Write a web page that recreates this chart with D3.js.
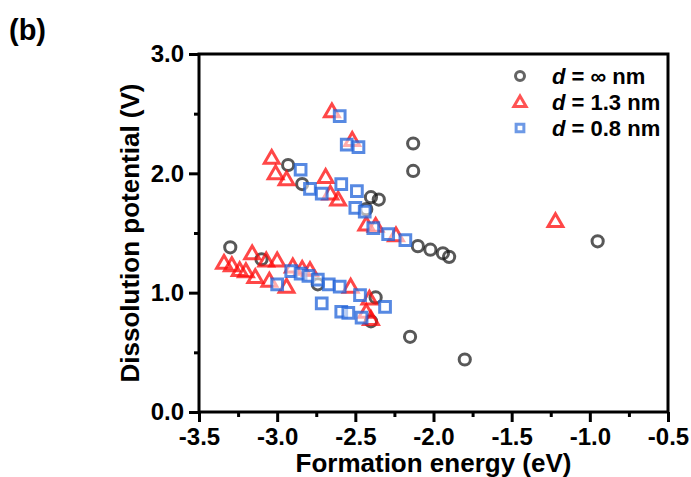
<!DOCTYPE html>
<html>
<head>
<meta charset="utf-8">
<script src="https://cdn.jsdelivr.net/npm/d3@7"></script>
<style>
  body { margin: 0; background: #fff; }
  text { font-family: "Liberation Sans", Arial, sans-serif; font-weight: bold; fill: #000; }
</style>
</head>
<body>
<svg id="chart" width="691" height="477"></svg>
<script>
// d = infinity nm (circles): [formation energy, dissolution potential]
const bulkPts = [
  [-3.30, 1.38], [-3.10, 1.28], [-2.93, 2.07], [-2.84, 1.91], [-2.74, 1.07],
  [-2.43, 1.70], [-2.40, 1.80], [-2.35, 1.78], [-2.37, 0.96], [-2.40, 0.76],
  [-2.13, 2.25], [-2.13, 2.02], [-2.15, 0.63], [-2.10, 1.39], [-2.02, 1.36],
  [-1.94, 1.33], [-1.90, 1.30], [-1.80, 0.44], [-0.95, 1.43]
];
// d = 1.3 nm (triangles)
const d13Pts = [
  [-2.65, 2.51], [-2.52, 2.27], [-3.035, 2.12], [-3.01, 1.99], [-2.94, 1.94],
  [-2.69, 1.96], [-2.66, 1.82], [-2.61, 1.77], [-2.43, 1.56], [-2.37, 1.55],
  [-2.24, 1.47], [-1.22, 1.59],
  [-3.16, 1.32], [-3.34, 1.24], [-3.29, 1.22], [-3.24, 1.18], [-3.20, 1.17],
  [-3.14, 1.12], [-3.07, 1.26], [-3.00, 1.26], [-3.05, 1.09], [-2.94, 1.04],
  [-2.90, 1.21], [-2.84, 1.19], [-2.79, 1.18], [-2.53, 1.04], [-2.41, 0.94],
  [-2.43, 0.83], [-2.40, 0.77]
];
// d = 0.8 nm (squares)
const d08Pts = [
  [-2.60, 2.48], [-2.555, 2.24], [-2.48, 2.22], [-2.85, 2.03], [-2.79, 1.87],
  [-2.715, 1.83], [-2.59, 1.91], [-2.49, 1.85], [-2.50, 1.71], [-2.44, 1.68],
  [-2.385, 1.54], [-2.29, 1.49], [-2.18, 1.44],
  [-3.00, 1.07], [-2.91, 1.18], [-2.85, 1.16], [-2.80, 1.14], [-2.74, 1.11],
  [-2.67, 1.07], [-2.60, 1.05], [-2.47, 0.98], [-2.31, 0.88], [-2.715, 0.91],
  [-2.59, 0.84], [-2.545, 0.83], [-2.46, 0.79]
];
const xTicks = [-3.5, -3.0, -2.5, -2.0, -1.5, -1.0, -0.5];
const yTicks = [0.0, 1.0, 2.0, 3.0];
const legendLabels = ["\u221e", "1.3", "0.8"];

const svg = d3.select("#chart");
const padL = 199, padR = 668, padT = 54, padB = 412;

const x = d3.scaleLinear().domain([-3.5, -0.5]).range([padL, padR]);
const y = d3.scaleLinear().domain([0, 3]).range([padB, padT]);

// axes
const fmt = d => d.toFixed(1);
const xAxis = d3.axisBottom(x).tickValues(xTicks).tickFormat(fmt).tickSize(10).tickPadding(6);
const xMinor = d3.axisBottom(x).tickValues(d3.range(-3.25, -0.5, 0.5)).tickFormat("").tickSize(5);
const yAxis = d3.axisLeft(y).tickValues(yTicks).tickFormat(fmt).tickSize(10).tickPadding(5);
const yMinor = d3.axisLeft(y).tickValues([0.5, 1.5, 2.5]).tickFormat("").tickSize(5);

function styleAxis(g) {
  g.select(".domain").remove();
  g.selectAll(".tick line").attr("stroke", "#000").attr("stroke-width", 3);
  g.selectAll(".tick text").style("font-size", "24px").attr("fill", "#000")
    .style("font-family", "'Liberation Sans', Arial, sans-serif").style("font-weight", "bold");
}

svg.append("g").attr("transform", "translate(0," + padB + ")").call(xAxis).call(styleAxis);
svg.append("g").attr("transform", "translate(0," + padB + ")").call(xMinor).call(styleAxis);
svg.append("g").attr("transform", "translate(" + padL + ",0)").call(yAxis).call(styleAxis);
svg.append("g").attr("transform", "translate(" + padL + ",0)").call(yMinor).call(styleAxis);

// frame
svg.append("rect")
  .attr("x", padL).attr("y", padT)
  .attr("width", padR - padL).attr("height", padB - padT)
  .attr("fill", "none").attr("stroke", "#000").attr("stroke-width", 3);

// markers
const triSym = d3.symbol(d3.symbolTriangle, 95);
const sqSym = d3.symbol(d3.symbolSquare, 115);

svg.append("g").selectAll("circle")
  .data(bulkPts)
  .enter()
  .append("circle")
  .attr("cx", d => x(d[0]))
  .attr("cy", d => y(d[1]))
  .attr("r", 5.6)
  .attr("fill", "none")
  .attr("stroke", "#111")
  .attr("stroke-opacity", 0.7)
  .attr("stroke-width", 3);

svg.append("g").selectAll("path")
  .data(d13Pts)
  .enter()
  .append("path")
  .attr("d", triSym)
  .attr("transform", d => "translate(" + x(d[0]) + "," + y(d[1]) + ")")
  .attr("fill", "none")
  .attr("stroke", "#ff0a0a")
  .attr("stroke-opacity", 0.75)
  .attr("stroke-width", 3);

svg.append("g").selectAll("path")
  .data(d08Pts)
  .enter()
  .append("path")
  .attr("d", sqSym)
  .attr("transform", d => "translate(" + x(d[0]) + "," + y(d[1]) + ")")
  .attr("fill", "#ffffff")
  .attr("fill-opacity", 0.55)
  .attr("stroke", "#1f62d8")
  .attr("stroke-opacity", 0.75)
  .attr("stroke-width", 3);

// legend
const legend = svg.append("g");
const legY = [76, 102, 128];
legend.append("circle").attr("cx", 520).attr("cy", legY[0]).attr("r", 4.5)
  .attr("fill", "none").attr("stroke", "#111").attr("stroke-opacity", 0.65).attr("stroke-width", 3);
legend.append("path").attr("d", d3.symbol(d3.symbolTriangle, 65))
  .attr("transform", "translate(520," + (legY[1] + 1) + ")")
  .attr("fill", "none").attr("stroke", "#ff0a0a").attr("stroke-opacity", 0.7).attr("stroke-width", 3);
legend.append("path").attr("d", d3.symbol(d3.symbolSquare, 60))
  .attr("transform", "translate(520," + legY[2] + ")")
  .attr("fill", "#fff").attr("stroke", "#1f62d8").attr("stroke-opacity", 0.65).attr("stroke-width", 3);

legendLabels.forEach((lab, i) => {
  const t = legend.append("text")
    .attr("x", 552).attr("y", legY[i])
    .attr("dy", "0.35em")
    .style("font-size", "22px");
  t.append("tspan").style("font-style", "italic").text("d");
  t.append("tspan").text(" = " + lab + " nm");
});

// titles
svg.append("text")
  .attr("x", (padL + padR) / 2).attr("y", 463)
  .attr("dy", "0.35em")
  .attr("text-anchor", "middle")
  .style("font-size", "26px")
  .text("Formation energy (eV)");

svg.append("text")
  .attr("transform", "translate(130," + ((padT + padB) / 2) + ") rotate(-90)")
  .attr("dy", "0.35em")
  .attr("text-anchor", "middle")
  .style("font-size", "26px")
  .text("Dissolution potential (V)");

svg.append("text")
  .attr("x", 9).attr("y", 40)
  .style("font-size", "29px")
  .text("(b)");
</script>
</body>
</html>
